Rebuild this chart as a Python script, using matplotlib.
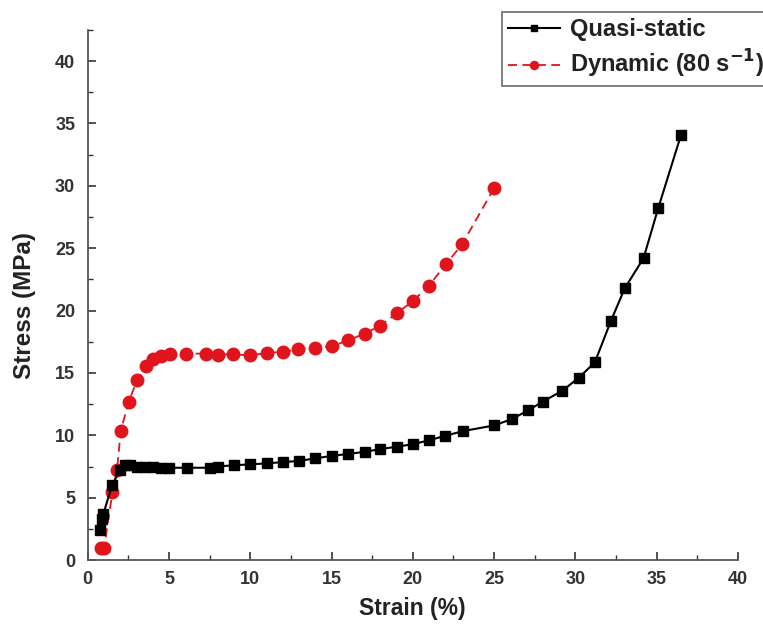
import matplotlib.pyplot as plt
from matplotlib.ticker import MultipleLocator

plt.rcParams['font.family'] = ['Liberation Sans', 'DejaVu Sans']
plt.rcParams['font.weight'] = 'bold'

# Quasi-static curve
qs_strain = [0.74, 0.86, 0.96, 1.5, 1.97, 2.3, 2.6, 3.0, 3.5, 4.0, 4.5, 5.0, 6.1, 7.5, 8.0,
             9.0, 10.0, 11.0, 12.0, 13.0, 14.0, 15.0, 16.0, 17.05, 18.0, 19.0, 20.0, 21.0,
             22.0, 23.1, 25.0, 26.1, 27.1, 28.0, 29.2, 30.2, 31.2, 32.2, 33.05, 34.2, 35.1, 36.5]
qs_stress = [2.4, 3.3, 3.7, 6.0, 7.2, 7.6, 7.6, 7.5, 7.5, 7.45, 7.4, 7.4, 7.4, 7.4, 7.5,
             7.6, 7.67, 7.75, 7.85, 7.95, 8.15, 8.35, 8.5, 8.68, 8.9, 9.08, 9.29, 9.6,
             9.96, 10.34, 10.79, 11.3, 12.0, 12.7, 13.57, 14.6, 15.84, 19.2, 21.8, 24.2, 28.2, 34.05]

# Dynamic curve (80 s^-1)
dyn_strain = [0.8, 1.0, 1.52, 1.8, 2.03, 2.52, 3.03, 3.56, 4.02, 4.53, 5.05, 6.03, 7.3, 8.0,
              8.94, 9.97, 11.0, 12.03, 12.95, 14.0, 15.04, 16.0, 17.05, 18.0, 19.0, 20.0,
              21.0, 22.03, 23.03, 25.0]
dyn_stress = [0.93, 0.93, 5.43, 7.2, 10.36, 12.7, 14.4, 15.57, 16.1, 16.37, 16.5, 16.55, 16.55, 16.47,
              16.5, 16.4, 16.6, 16.7, 16.9, 17.0, 17.15, 17.6, 18.16, 18.8, 19.77, 20.75,
              22.0, 23.7, 25.3, 29.8]

fig = plt.figure(figsize=(7.63, 6.35), dpi=100)
ax = fig.add_axes([0.115, 0.118, 0.852, 0.835])

ax.plot(dyn_strain, dyn_stress, color='#e0141c', linestyle=(0, (5, 3)), linewidth=1.3,
        marker='o', markersize=9, markerfacecolor='#e0141c', markeredgecolor='#e0141c',
        label='Dynamic (80 s$^{\\mathbf{-1}}$)', zorder=2)
ax.plot(qs_strain, qs_stress, color='black', linestyle='-', linewidth=1.5,
        marker='s', markersize=7.5, label='Quasi-static', zorder=3)

ax.set_xlim(0, 40)
ax.set_ylim(0, 42.5)
ax.xaxis.set_major_locator(MultipleLocator(5))
ax.xaxis.set_minor_locator(MultipleLocator(2.5))
ax.yaxis.set_major_locator(MultipleLocator(5))
ax.yaxis.set_minor_locator(MultipleLocator(2.5))
ax.tick_params(which='both', direction='in', colors='#333333', labelsize=13)
ax.tick_params(which='major', length=6, width=1.2)
ax.tick_params(which='minor', length=3.5, width=1)
ax.tick_params(axis='x', pad=8)
ax.tick_params(axis='y', pad=9)
for s in ['top', 'right']:
    ax.spines[s].set_visible(False)
for s in ['left', 'bottom']:
    ax.spines[s].set_color('#555555')
    ax.spines[s].set_linewidth(1.3)

ax.set_xlabel('Strain (%)', fontsize=16.5, fontweight='bold', color='#222222', labelpad=6)
ax.set_ylabel('Stress (MPa)', fontsize=17.5, fontweight='bold', color='#222222')
ax.yaxis.set_label_coords(-0.08, 0.48)

handles, labels = ax.get_legend_handles_labels()
leg = fig.legend(handles[::-1], labels[::-1], loc='upper left',
                 bbox_to_anchor=(502 / 763, 1 - 12 / 635),
                 fontsize=17, frameon=True, fancybox=False, edgecolor='#444444',
                 handlelength=2.2, borderpad=0.25, labelspacing=0.3, handletextpad=0.45,
                 borderaxespad=0, markerscale=0.65)
leg.get_frame().set_linewidth(1.2)
for t in leg.get_texts():
    t.set_fontweight('bold')
    t.set_color('#222222')

fig.savefig('out.png', dpi=100)
